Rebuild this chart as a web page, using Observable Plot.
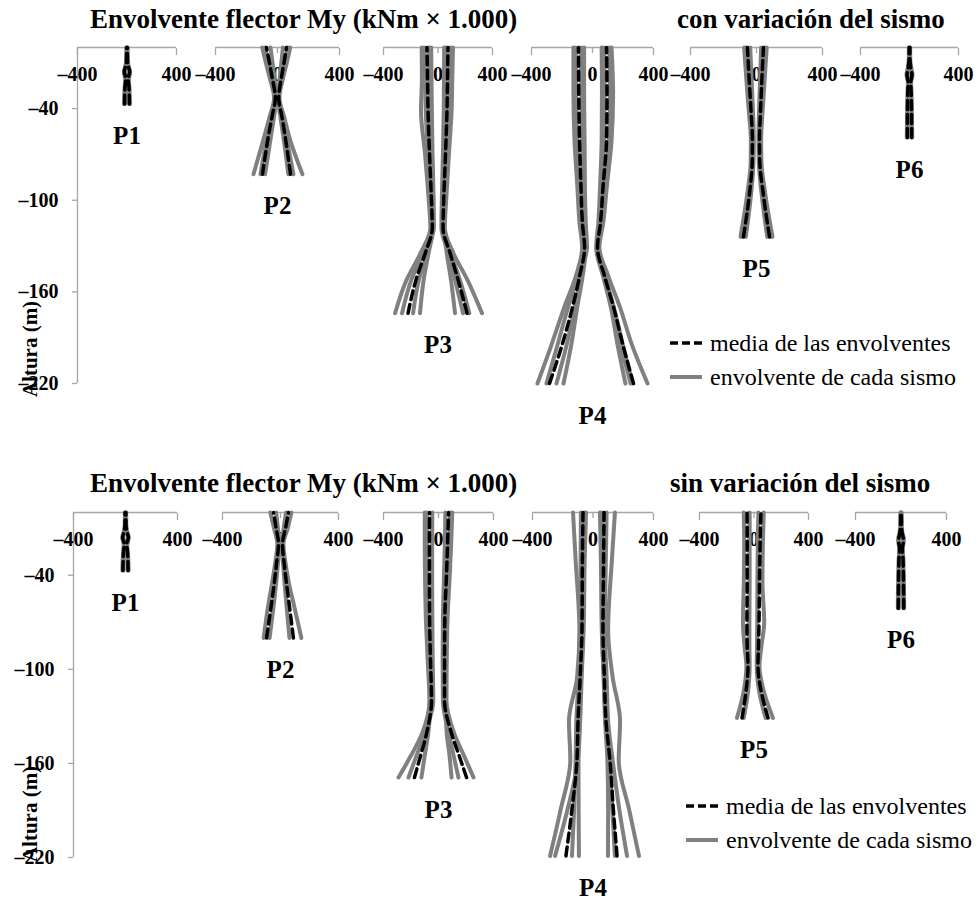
<!DOCTYPE html>
<html><head><meta charset="utf-8">
<script src="https://cdn.jsdelivr.net/npm/d3@7"></script>
<script src="https://cdn.jsdelivr.net/npm/@observablehq/plot@0.6"></script>
<style>
body{margin:0;background:#fff;}
#root{position:relative;width:978px;height:909px;overflow:hidden;font-family:"Liberation Serif",serif;}
.abs{position:absolute;}
</style></head><body><div id="root"></div><script>
// ---------- data ----------
const pilas = ["P1","P2","P3","P4","P5","P6"];
const ticksX = [-400, 0, 400];
const ticksY = [-40, -100, -160, -220];
const dominioX = [-400, 400];
const dominioY = [-220, 0];

// con variación del sismo
const conAlt = [
  [0,-8,-12,-16,-20,-26,-37],
  [0,-10,-20,-33,-45,-60,-83],
  [0,-20,-41,-70,-100,-118,-135,-152,-174],
  [0,-30,-61,-90,-115,-131,-150,-170,-195,-220],
  [0,-20,-40,-61,-75,-95,-124],
  [0,-8,-13,-18,-23,-30,-59]
];
const conMedNeg = [
  [-3,-4,-10,-22,-10,-16,-20],
  [-71,-52,-34,-14,-35,-62,-97],
  [-81,-77,-73,-62,-48,-42,-95,-161,-220],
  [-92,-90,-85,-76,-66,-52,-85,-131,-200,-282],
  [-55,-45,-34,-25,-26,-42,-79],
  [-3,-4,-10,-20,-10,-14,-18]
];
const conMedPos = [
  [3,4,10,22,10,16,20],
  [58,42,25,8,28,52,84],
  [73,70,66,55,42,37,90,147,213],
  [92,95,92,70,52,33,80,138,200,269],
  [42,33,25,18,20,40,79],
  [3,4,10,20,10,14,18]
];
const conEnvNeg = [
  [[-5,-6,-13,-25,-13,-19,-24],[-2,-3,-8,-18,-8,-13,-16]],
  [[-98,-75,-50,-22,-50,-90,-155],[-45,-32,-20,-6,-22,-45,-80],[-80,-60,-40,-16,-40,-70,-110]],
  [[-120,-118,-125,-95,-68,-56,-130,-230,-315],[-50,-48,-45,-40,-32,-30,-110,-195,-264],[-100,-96,-90,-75,-58,-50,-80,-140,-183],[-65,-62,-60,-50,-40,-36,-70,-105,-132]],
  [[-125,-125,-118,-100,-85,-68,-110,-185,-270,-361],[-55,-55,-52,-50,-44,-36,-95,-160,-230,-302],[-110,-108,-100,-88,-76,-60,-75,-115,-170,-236],[-75,-72,-68,-62,-55,-44,-65,-100,-140,-190]],
  [[-75,-62,-48,-34,-35,-55,-97],[-38,-30,-22,-16,-18,-32,-65],[-62,-50,-38,-28,-29,-46,-85]],
  [[-5,-6,-13,-24,-13,-17,-22],[-2,-3,-8,-16,-8,-11,-14]]
];
const conEnvPos = [
  [[5,6,13,25,13,19,24],[2,3,8,18,8,13,16]],
  [[82,60,36,12,42,80,161],[35,25,15,4,18,40,70],[66,48,29,9,32,60,103]],
  [[110,105,100,80,60,50,115,215,323],[45,44,42,36,28,25,80,125,184],[90,86,80,66,50,44,65,95,125],[58,56,54,46,36,32,95,160,230]],
  [[125,135,125,95,70,45,105,180,260,361],[60,62,60,50,38,24,70,120,165,216],[110,115,108,82,62,40,85,140,200,262],[75,78,75,60,45,28,75,128,185,250]],
  [[62,50,38,28,30,52,97],[28,22,16,12,14,30,65],[50,40,30,22,24,45,85]],
  [[5,6,13,24,13,17,22],[2,3,8,16,8,11,14]]
];

// sin variación del sismo
const sinAlt = [
  [0,-8,-12,-16,-20,-26,-37],
  [0,-10,-20,-33,-45,-60,-80],
  [0,-20,-40,-67,-95,-120,-141,-155,-169],
  [0,-30,-75,-105,-133,-158,-190,-219],
  [0,-20,-45,-70,-85,-98,-115,-131],
  [0,-8,-13,-18,-23,-30,-61]
];
const sinMedNeg = [
  [-3,-4,-10,-22,-10,-16,-20],
  [-48,-30,-14,-28,-43,-65,-96],
  [-65,-66,-66,-65,-58,-51,-87,-130,-175],
  [-66,-70,-73,-85,-99,-106,-140,-179],
  [-51,-50,-50,-52,-50,-44,-60,-88],
  [-3,-4,-10,-22,-12,-18,-24]
];
const sinMedPos = [
  [3,4,10,22,10,16,20],
  [55,35,14,26,41,62,89],
  [73,66,58,46,44,44,95,150,204],
  [73,70,66,75,86,112,135,159],
  [51,45,40,37,33,29,55,103],
  [3,4,10,22,12,18,24]
];
const sinEnvNeg = [
  [[-5,-6,-13,-25,-13,-19,-24],[-2,-3,-8,-18,-8,-13,-16]],
  [[-70,-45,-22,-38,-58,-86,-116],[-30,-18,-8,-18,-30,-48,-75]],
  [[-100,-100,-98,-92,-78,-66,-120,-200,-291],[-45,-46,-46,-45,-42,-38,-100,-160,-218],[-85,-84,-82,-78,-68,-58,-75,-100,-124]],
  [[-132,-115,-90,-105,-159,-150,-215,-284],[-46,-55,-62,-75,-85,-100,-170,-251],[-80,-82,-84,-95,-110,-115,-125,-139],[-55,-60,-66,-78,-90,-96,-95,-93]],
  [[-75,-72,-75,-81,-70,-56,-78,-125],[-32,-32,-32,-34,-34,-32,-45,-75]],
  [[-5,-6,-13,-25,-15,-21,-28],[-2,-3,-8,-18,-9,-14,-19]]
];
const sinEnvPos = [
  [[5,6,13,25,13,19,24],[2,3,8,18,8,13,16]],
  [[75,50,20,36,58,95,144],[38,22,8,18,28,42,62]],
  [[100,92,82,66,60,58,115,185,255],[50,46,40,32,30,32,75,110,145],[86,78,68,56,52,50,60,80,95]],
  [[145,125,100,130,179,170,240,304],[46,52,58,70,80,95,100,99],[90,85,78,90,100,130,175,225],[60,60,60,72,84,110,128,145]],
  [[72,65,62,75,55,40,75,139],[32,28,25,24,22,20,40,85]],
  [[5,6,13,25,15,21,28],[2,3,8,18,9,14,19]]
];

// ---------- layout / style ----------
const capaCon = {y0: 47, plotH: 336, brackets: [[77,176],[215,339],[383,492],[531,653],[690,822],[860,958]]};
const capaSin = {y0: 512, plotH: 345, brackets: [[73,177],[222,338],[383,493],[532,653],[699,808],[855,946]]};
const grisEje = "#a6a6a6";
const grisLinea = "#808080";
const fuente = "Liberation Serif";
const fmt = d => d < 0 ? "\u2013" + Math.abs(d) : String(d);

const root = document.getElementById("root");

function pila(alt, medNeg, medPos, envNeg, envPos, i, capa) {
  const [bl, br] = capa.brackets[i];
  const ml = 10, mr = 10, mt = 10, mb = 10;
  const filas = (xs, serie) => xs.map((x, k) => ({x, y: alt[k], serie})).sort((a, b) => a.y - b.y);
  const env = [
    ...envNeg.map((xs, k) => filas(xs, "n" + k)),
    ...envPos.map((xs, k) => filas(xs, "p" + k))
  ].flat();
  const media = [...filas(medNeg, "n"), ...filas(medPos, "p")];
  const marks = [
    Plot.ruleY([0], {stroke: grisEje, strokeWidth: 1.3}),
    Plot.axisX({anchor: "top", ticks: [ticksX[0], ticksX[2]], tickSize: 7, dy: 7, tickFormat: () => "", stroke: grisEje, strokeWidth: 1.3, label: null}),
    Plot.axisX({anchor: "top", ticks: [ticksX[1]], tickSize: 5, dy: 5, tickFormat: () => "", stroke: grisEje, strokeWidth: 1.3, label: null}),
    Plot.text(ticksX, {x: d => d, frameAnchor: "top", dy: 27, text: fmt, fontSize: 20, fontWeight: "bold", lineAnchor: "middle", fill: "black"}),
    Plot.line(env, {x: "x", y: "y", z: "serie", stroke: grisLinea, strokeWidth: 4, curve: "monotone-y"}),
    Plot.line(media, {x: "x", y: "y", z: "serie", stroke: "black", strokeWidth: 3.5, strokeDasharray: "9,5", curve: "monotone-y"}),
    Plot.text([{p: pilas[i], y: d3.min(alt)}], {x: () => 0, y: "y", text: "p", dy: 32, fontSize: 25, fontWeight: "bold", fill: "black", lineAnchor: "middle"})
  ];
  if (i === 0) {
    marks.unshift(
      Plot.ruleX([dominioX[0]], {stroke: grisEje, strokeWidth: 1.3}),
      Plot.axisY({anchor: "left", ticks: ticksY, tickSize: 5, tickPadding: 14, tickFormat: fmt, stroke: grisEje, strokeWidth: 1.3, fill: "black", fontSize: 20, fontWeight: "bold", label: null})
    );
  }
  const svg = Plot.plot({
    width: ml + (br - bl) + mr,
    height: mt + capa.plotH + mb,
    marginLeft: ml, marginRight: mr, marginTop: mt, marginBottom: mb,
    x: {domain: dominioX},
    y: {domain: dominioY, axis: i === 0 ? undefined : null},
    style: {fontFamily: fuente, fontSize: "20px", background: "transparent", overflow: "visible", color: "black"},
    marks
  });
  const div = document.createElement("div");
  div.className = "abs";
  div.style.left = (bl - ml) + "px";
  div.style.top = (capa.y0 - mt) + "px";
  div.appendChild(svg);
  root.appendChild(div);
}

for (let i = 0; i < pilas.length; i++) {
  pila(conAlt[i], conMedNeg[i], conMedPos[i], conEnvNeg[i], conEnvPos[i], i, capaCon);
  pila(sinAlt[i], sinMedNeg[i], sinMedPos[i], sinEnvNeg[i], sinEnvPos[i], i, capaSin);
}

// ---------- overlay texts: titles, axis title, legend ----------
const ov = d3.select(root).append("svg")
  .attr("class", "abs").attr("width", 978).attr("height", 909)
  .style("left", "0px").style("top", "0px").style("pointer-events", "none")
  .style("font-family", fuente);

const titulos = [
  {t: "Envolvente flector My (kNm \u00d7 1.000)", x: 90, y: 28},
  {t: "con variación del sismo", x: 677, y: 28},
  {t: "Envolvente flector My (kNm \u00d7 1.000)", x: 90, y: 492},
  {t: "sin variación del sismo", x: 670, y: 492}
];
ov.selectAll("text.tit").data(titulos).join("text").attr("class", "tit")
  .attr("x", d => d.x).attr("y", d => d.y).attr("font-size", 27).attr("font-weight", "bold").text(d => d.t);

[{cy: 349}, {cy: 814}].forEach(d => {
  ov.append("text").attr("transform", `translate(30,${d.cy}) rotate(-90)`)
    .attr("text-anchor", "middle").attr("dominant-baseline", "central")
    .attr("font-size", 21).attr("font-weight", "bold").text("Altura (m)");
});

const leyendas = [{x: 670, y: 343}, {x: 686, y: 806}];
leyendas.forEach(l => {
  ov.append("line").attr("x1", l.x).attr("x2", l.x + 32).attr("y1", l.y).attr("y2", l.y)
    .attr("stroke", "black").attr("stroke-width", 3.5).attr("stroke-dasharray", "8,4");
  ov.append("text").attr("x", l.x + 40).attr("y", l.y + 8).attr("font-size", 24).text("media de las envolventes");
  ov.append("line").attr("x1", l.x).attr("x2", l.x + 32).attr("y1", l.y + 34).attr("y2", l.y + 34)
    .attr("stroke", grisLinea).attr("stroke-width", 4);
  ov.append("text").attr("x", l.x + 40).attr("y", l.y + 42).attr("font-size", 24).text("envolvente de cada sismo");
});
</script></body></html>
